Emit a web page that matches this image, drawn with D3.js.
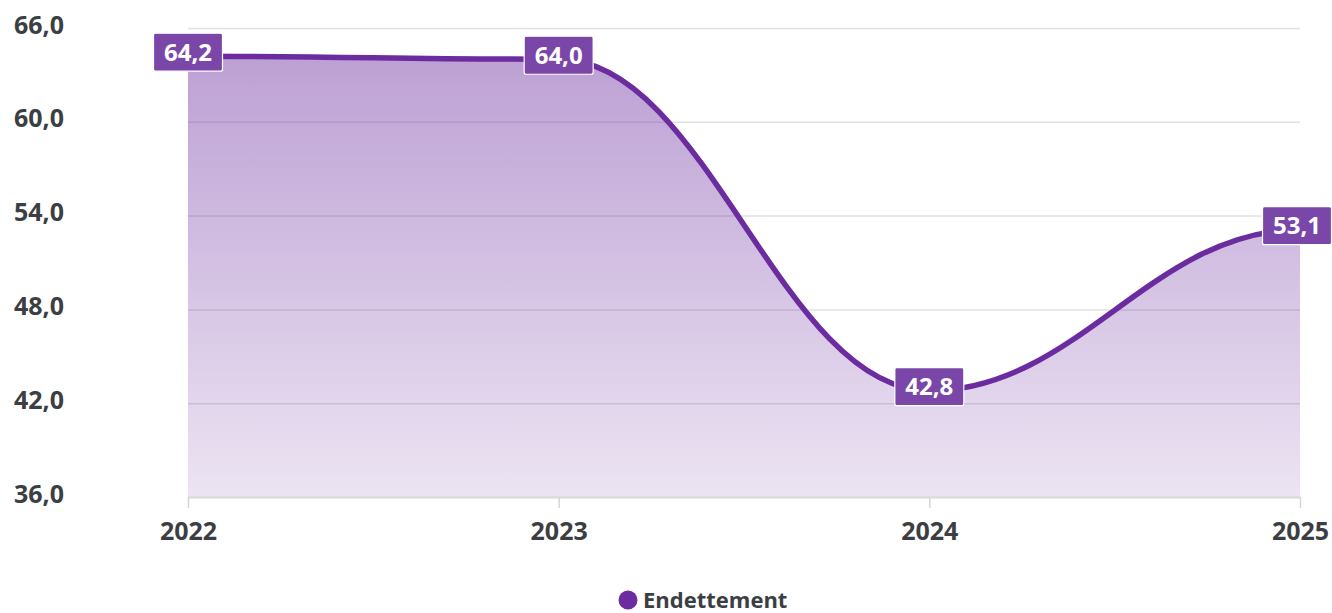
<!DOCTYPE html>
<html>
<head>
<meta charset="utf-8">
<script src="https://cdn.jsdelivr.net/npm/d3@7"></script>
<style>
  html, body { margin: 0; padding: 0; background: #fff; }
  svg { display: block; font-family: "Open Sans", "Noto Sans", sans-serif; }
</style>
</head>
<body>
<svg id="chart" width="1332" height="613"></svg>
<script>
// Debt ratio by year
const years = ["2022", "2023", "2024", "2025"];
const endettement = [64.2, 64.0, 42.8, 53.1];
const yTicks = [36, 42, 48, 54, 60, 66];
const seriesName = "Endettement";

const W = 1332, H = 613;
const margin = { left: 188, right: 32, top: 28, bottom: 116 };
const fmt = v => d3.format(".1f")(v).replace(".", ",");
const FONT = '"Open Sans", "Noto Sans", sans-serif';

// Smooth curve with flat tangents at each point; control handles reach 40% of each segment.
class SoftBump {
  constructor(context) { this._context = context; }
  areaStart() { this._line = 0; }
  areaEnd() { this._line = NaN; }
  lineStart() { this._point = 0; }
  lineEnd() {
    if (this._line || (this._line !== 0 && this._point === 1)) this._context.closePath();
    this._line = 1 - this._line;
  }
  point(px, py) {
    px = +px; py = +py;
    if (this._point === 0) {
      this._point = 1;
      if (this._line) this._context.lineTo(px, py); else this._context.moveTo(px, py);
    } else {
      this._point = 2;
      const dx = px - this._x0;
      this._context.bezierCurveTo(this._x0 + 0.4 * dx, this._y0, px - 0.4 * dx, py, px, py);
    }
    this._x0 = px; this._y0 = py;
  }
}
const curveSoftBump = ctx => new SoftBump(ctx);

const svg = d3.select("#chart");

const x = d3.scalePoint().domain(years).range([margin.left, W - margin.right]);
const y = d3.scaleLinear().domain([36, 66]).range([H - margin.bottom, margin.top]);

const lineColor = "#6b2c9f";

// gradient for the area
const defs = svg.append("defs");
const grad = defs.append("linearGradient").attr("id", "areaGrad")
  .attr("x1", 0).attr("y1", 0).attr("x2", 0).attr("y2", 1);
grad.append("stop").attr("offset", "0%").attr("stop-color", lineColor).attr("stop-opacity", 0.45);
grad.append("stop").attr("offset", "100%").attr("stop-color", lineColor).attr("stop-opacity", 0.13);

// horizontal grid + y labels
const yAxis = d3.axisLeft(y).tickValues(yTicks).tickSize(-(W - margin.right - margin.left)).tickFormat(fmt);
const gy = svg.append("g").attr("transform", `translate(${margin.left},0)`).call(yAxis)
  .attr("font-family", FONT);
gy.select(".domain").remove();
gy.selectAll(".tick line").attr("stroke", "#e1e1e1").attr("stroke-width", 1.5);
gy.selectAll(".tick text")
  .attr("x", -174).attr("y", -4).attr("text-anchor", "start").attr("dy", "0.36em")
  .attr("fill", "#3b3e42").attr("font-size", 25).attr("font-weight", 700);

const pts = years.map((yr, i) => ({ yr, v: endettement[i] }));
const base = y(36);

// area
const area = d3.area().x(d => x(d.yr)).y0(base).y1(d => y(d.v)).curve(curveSoftBump);
svg.append("path").datum(pts).attr("d", area).attr("fill", "url(#areaGrad)");

// x axis
const xAxis = d3.axisBottom(x).tickSize(11).tickSizeOuter(0);
const gx = svg.append("g").attr("transform", `translate(0,${base})`).call(xAxis)
  .attr("font-family", FONT);
gx.select(".domain").attr("stroke", "#dcdcdc").attr("stroke-width", 2);
gx.selectAll(".tick line").attr("stroke", "#d6d6d6").attr("stroke-width", 1.5);
gx.selectAll(".tick text").attr("y", 34).attr("dy", "0.36em")
  .attr("fill", "#3b3e42").attr("font-size", 25).attr("font-weight", 700);

// line
const line = d3.line().x(d => x(d.yr)).y(d => y(d.v)).curve(curveSoftBump);
svg.append("path").datum(pts).attr("d", line)
  .attr("fill", "none").attr("stroke", lineColor).attr("stroke-width", 5.5)
  .attr("stroke-linejoin", "round").attr("stroke-linecap", "round");

// data labels
const bw = 69, bh = 38;
const lbl = svg.append("g").selectAll("g").data(pts).join("g")
  .attr("transform", d => {
    const cx = Math.min(x(d.yr), W - bw / 2 - 0.5);
    return `translate(${cx},${y(d.v) - 4})`;
  });
lbl.append("rect")
  .attr("x", -bw / 2).attr("y", -bh / 2).attr("width", bw).attr("height", bh)
  .attr("rx", 2).attr("fill", "#7a47a9").attr("stroke", "#fff").attr("stroke-width", 1.2);
lbl.append("text").attr("text-anchor", "middle").attr("dy", "0.36em")
  .attr("fill", "#fff").attr("font-size", 24).attr("font-weight", 700)
  .text(d => fmt(d.v));

// legend
const lg = svg.append("g").attr("transform", "translate(628,600)");
lg.append("circle").attr("r", 9.5).attr("fill", lineColor);
lg.append("text").attr("x", 15).attr("dy", "0.36em")
  .attr("fill", "#3b3e42").attr("font-size", 22).attr("font-weight", 700)
  .text(seriesName);
</script>
</body>
</html>
